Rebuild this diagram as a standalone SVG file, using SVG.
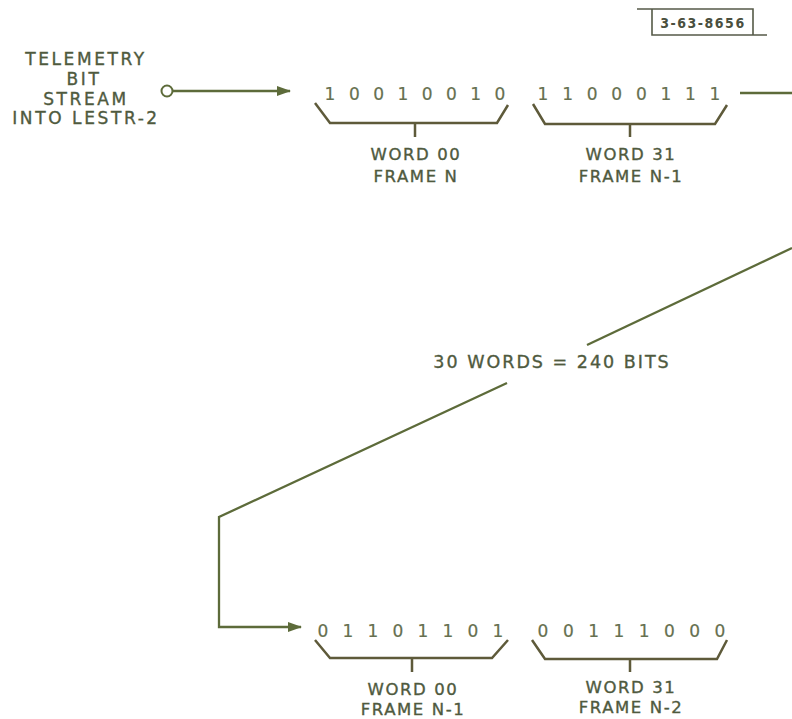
<svg xmlns="http://www.w3.org/2000/svg" width="792" height="719" viewBox="0 0 792 719">
<style>
text{font-family:"DejaVu Sans","Liberation Sans",sans-serif;fill:#4f5a3e;text-anchor:middle;stroke:#4f5a3e;stroke-width:0.35px}
.lbl{font-size:16.5px;letter-spacing:1.6px}
.src{font-size:17px;letter-spacing:2.6px}
.bits{font-size:17px;fill:#66704f;stroke:#66704f;stroke-width:0.2px}
.ln{fill:none;stroke:#5d6b3a;stroke-width:2.3;stroke-linejoin:miter}
.br{fill:none;stroke:#5e5a3a;stroke-width:2.5}
.tag{font-family:"DejaVu Sans Condensed","DejaVu Sans",sans-serif;font-size:14px;font-weight:bold;fill:#4a4f3e;stroke:none;letter-spacing:1.5px}
</style>
<defs>
<marker id="ah" markerWidth="14" markerHeight="10" refX="13" refY="5" orient="auto" markerUnits="userSpaceOnUse">
<path d="M0,0 L14,5 L0,10 z" fill="#5d6b3a"/>
</marker>
</defs>
<g id="tag">
<path d="M637,9 H753 V35 M652,9 V35 H767" fill="none" stroke="#555a48" stroke-width="1.6"/>
<text class="tag" x="703" y="28">3-63-8656</text>
</g>
<g id="source">
<text class="src" x="86" y="65">TELEMETRY</text>
<text class="src" x="84" y="85">BIT</text>
<text class="src" x="86" y="105">STREAM</text>
<text class="src" x="86" y="124">INTO LESTR-2</text>
<circle cx="167" cy="91" r="5.5" fill="#fff" stroke="#5d6b3a" stroke-width="2"/>
</g>
<g id="word00N">
<text class="bits" x="330 354.3 378.6 402.9 427.1 451.4 475.7 500" y="100">10010010</text>
<path class="br" d="M315,103 L330,123 H497 L508,105 M415,123 V137"/>
<text class="lbl" x="416" y="160">WORD 00</text>
<text class="lbl" x="416" y="182">FRAME N</text>
</g>
<g id="word31N1">
<text class="bits" x="543 567.6 592.1 616.7 641.3 665.9 690.4 715" y="100">11000111</text>
<path class="br" d="M533,104 L545,124 H715 L727,105 M630,124 V137"/>
<text class="lbl" x="631" y="160">WORD 31</text>
<text class="lbl" x="631" y="182">FRAME N-1</text>
</g>
<g id="count">
<text class="lbl" x="552" y="368" style="font-size:17.5px;letter-spacing:2px">30 WORDS = 240 BITS</text>
</g>
<g id="word00N1">
<text class="bits" x="323 348 373 398 423 448 473 498" y="637">01101101</text>
<path class="br" d="M315,640 L330,658 H492 L508,640 M412,658 V672"/>
<text class="lbl" x="413" y="695">WORD 00</text>
<text class="lbl" x="413" y="715">FRAME N-1</text>
</g>
<g id="word31N2">
<text class="bits" x="543 568.3 593.6 618.9 644.1 669.4 694.7 720" y="637">00111000</text>
<path class="br" d="M532,640 L545,659 H717 L727,640 M630,659 V672"/>
<text class="lbl" x="631" y="693">WORD 31</text>
<text class="lbl" x="631" y="713">FRAME N-2</text>
</g>
<g id="connectors">
<line class="ln" x1="172.5" y1="91" x2="290" y2="91" marker-end="url(#ah)"/>
<line class="ln" x1="740" y1="93" x2="792" y2="93"/>
<line class="ln" x1="792" y1="248" x2="587" y2="345"/>
<path class="ln" d="M507,383 L219,517 V627 H301" marker-end="url(#ah)"/>
</g>
</svg>
